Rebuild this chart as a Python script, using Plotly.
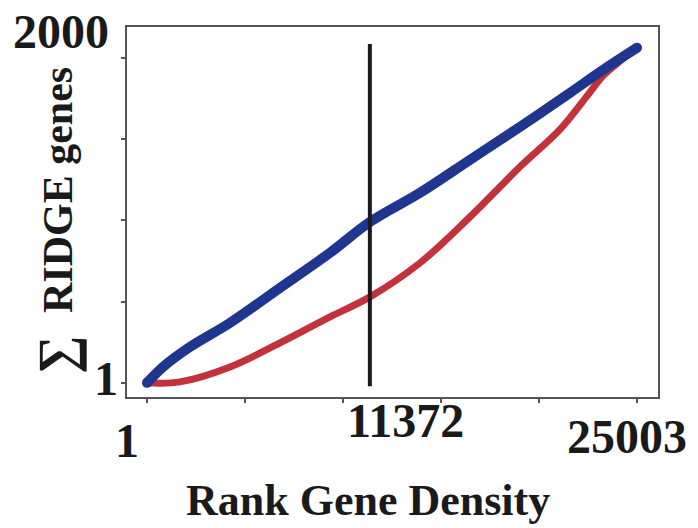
import plotly.graph_objects as go

# Cumulative count of RIDGE genes along genes ranked by gene density
rank_blue = [1, 817, 2195, 4236, 6787, 9339, 11380, 13931, 16482, 19034, 21585, 23269, 25003]
ridge_blue = [1, 99, 222, 370, 585, 801, 991, 1170, 1373, 1576, 1785, 1926, 2062]

rank_red = [1, 1685, 4236, 6787, 9339, 11380, 13931, 16482, 19034, 21075, 22418, 23269, 24136, 25003]
ridge_red = [1, 7, 99, 247, 407, 530, 739, 1022, 1330, 1560, 1760, 1890, 1980, 2062]

marker_rank = 11372
x_ticks = [1, 5001, 10001, 15001, 20001, 25001]
y_ticks = [1, 500, 1000, 1500, 2000]
x_labels = ["1", "11372", "25003"]
y_labels = ["1", "2000"]

BLUE = "#1e3690"
RED = "#c3323b"
FONT = "Liberation Serif"

fig = go.Figure()
fig.add_trace(go.Scatter(x=rank_red, y=ridge_red, mode="lines",
                         line=dict(color=RED, width=7, shape="spline", smoothing=1.0),
                         hoverinfo="skip"))
fig.add_trace(go.Scatter(x=rank_blue, y=ridge_blue, mode="lines",
                         line=dict(color=BLUE, width=10, shape="spline", smoothing=1.0),
                         hoverinfo="skip"))
# rounded ends of the blue curve
fig.add_trace(go.Scatter(x=[rank_blue[0], rank_blue[-1]], y=[ridge_blue[0], ridge_blue[-1]],
                         mode="markers", marker=dict(color=BLUE, size=10),
                         hoverinfo="skip"))
fig.add_trace(go.Scatter(x=[marker_rank, marker_rank], y=[-20, 2085], mode="lines",
                         line=dict(color="#1a1a1a", width=4), hoverinfo="skip"))

W, H = 698, 528
L, R, T, B = 127, 40, 27, 131
pw, ph = W - L - R, H - T - B


def px(x, y):
    return (x - L) / pw, (H - B - y) / ph


def label(text, x, y, size, angle=0):
    xp, yp = px(x, y)
    fig.add_annotation(x=xp, y=yp, xref="paper", yref="paper", text=text,
                       showarrow=False, textangle=angle, xanchor="center", yanchor="middle",
                       font=dict(family=FONT, size=size, color="#1a1a1a"))


# tick labels
label("<b>%s</b>" % x_labels[0], 127, 440, 48)
label("<b>%s</b>" % x_labels[1], 405, 420, 48)
label("<b>%s</b>" % x_labels[2], 627, 436, 48)
label("<b>%s</b>" % y_labels[1], 61, 32, 48)
label("<b>%s</b>" % y_labels[0], 106, 378, 48)

# axis titles
label("<b>Rank Gene Density</b>", 368, 500, 44)
label("<b>RIDGE genes</b>", 58, 190, 42, angle=-90)
label("<b>\u2211</b>", 57, 355, 54, angle=-90)

axis_common = dict(showgrid=False, zeroline=False, showline=True, mirror=True,
                   linecolor="#555555", linewidth=2, ticks="outside", ticklen=4,
                   tickcolor="#555555", tickwidth=1.5, showticklabels=False)
fig.update_xaxes(range=[-1020, 26074], tickvals=x_ticks, **axis_common)
fig.update_yaxes(range=[-86, 2190], tickvals=y_ticks, **axis_common)

fig.update_layout(width=W, height=H, margin=dict(l=L, r=R, t=T, b=B),
                  paper_bgcolor="white", plot_bgcolor="white", showlegend=False)

fig.write_html("out.html")
